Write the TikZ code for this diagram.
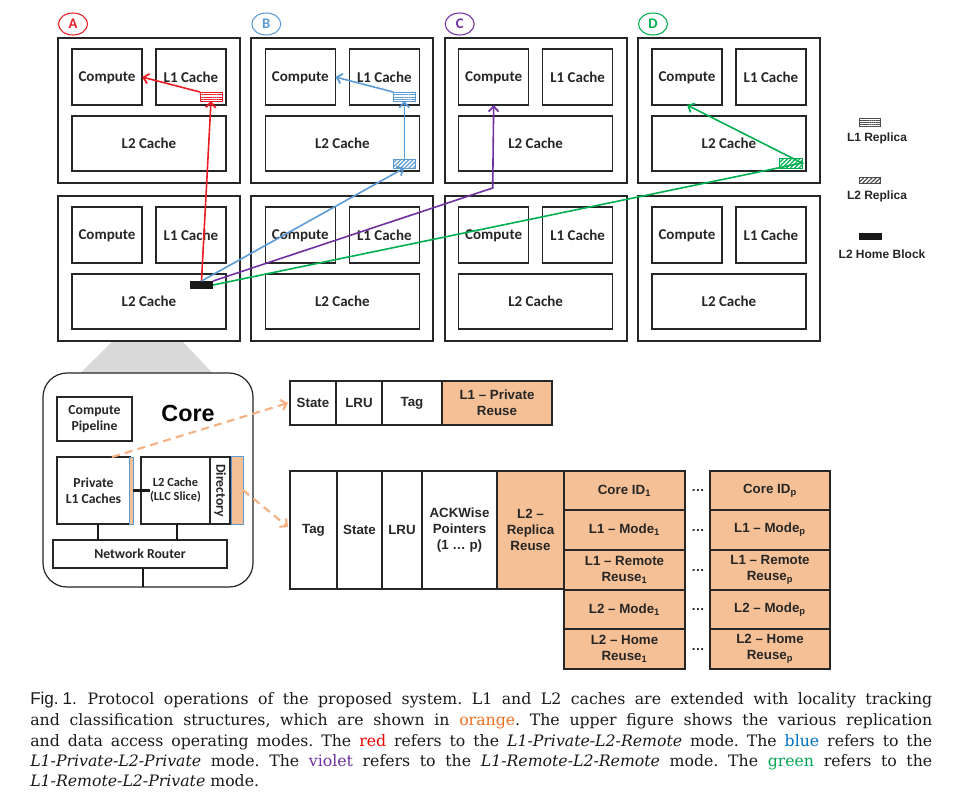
\documentclass[tikz,border=0pt]{standalone}
\usepackage{fontspec}
\newfontfamily\carl{Carlito}
\newfontfamily\ars{Liberation Sans}
\newfontfamily\capfont{DejaVu Serif}
\usetikzlibrary{arrows.meta,shapes.geometric,patterns.meta}
\definecolor{cred}{RGB}{237,28,36}
\definecolor{cblue}{RGB}{91,155,213}
\definecolor{cviolet}{RGB}{112,48,160}
\definecolor{cgreen}{RGB}{0,176,80}
\definecolor{corange}{RGB}{245,192,150}
\definecolor{cdash}{RGB}{244,177,131}
\definecolor{ink}{RGB}{38,38,38}
\definecolor{cgray}{RGB}{217,217,217}
\definecolor{capor}{RGB}{240,110,30}
\definecolor{capred}{RGB}{235,0,0}
\definecolor{capblue}{RGB}{0,112,192}
\definecolor{capviolet}{RGB}{112,48,160}
\definecolor{capgreen}{RGB}{0,166,80}
\tikzset{
 wh/.style 2 args={minimum width=#1*0.75pt, minimum height=#2*0.75pt, inner sep=0pt, outer sep=0pt},
 tile/.style={draw=ink, line width=1.5pt},
 ibox/.style={draw=ink, line width=1.1pt, text=ink, text depth=0pt, font=\carl\bfseries\fontsize{11.25}{13}\selectfont},
 lab/.style={draw=#1, ellipse, text=#1, line width=0.8pt, font=\carl\bfseries\fontsize{11}{13}\selectfont, inner sep=0pt, minimum width=21.75pt, minimum height=16.5pt},
 repone/.style={draw=#1, line width=0.6pt, pattern={Lines[angle=0,distance=1.6pt,line width=0.7pt]}, pattern color=#1},
 reptwo/.style={draw=#1, line width=0.6pt, pattern={Lines[angle=45,distance=2.2pt,line width=0.9pt]}, pattern color=#1},
 homeblk/.style={fill=black!90, draw=none},
 arr/.style={-{Straight Barb[length=4pt,width=7.5pt,line width=1.3pt]}, line width=1.2pt},
 legtext/.style={text=ink, font=\ars\bfseries\fontsize{9}{11}\selectfont},
 cbox/.style={draw=ink, line width=0.8pt, text=ink, align=center, font=\carl\bfseries\fontsize{10.3}{12}\selectfont},
 thickc/.style={draw=black!90, line width=2pt},
 strip/.style={draw=cblue, line width=0.6pt, fill=corange},
 odash/.style={draw=cdash, dash pattern=on 6pt off 4pt, line width=1.6pt, -{Straight Barb[length=4pt,width=8pt]}},
 cell/.style={draw=ink, line width=0.9pt, text=ink, align=center, font=\ars\bfseries\fontsize{10}{12}\selectfont},
 ocell/.style={cell, fill=corange},
 dotsn/.style={text=ink, font=\ars\bfseries\fontsize{10}{12}\selectfont},
 capline/.style={anchor=base west, inner sep=0pt, font=\capfont\frenchspacing\fontsize{11.8}{14}\selectfont, text=black!90}
}
\begin{document}
\begin{tikzpicture}[x=0.75pt,y=-0.75pt]
\useasboundingbox (0,0) rectangle (956,801);
% ---------- tiles ----------
\foreach \L [count=\i from 0] in {A,B,C,D}{
 \foreach \j in {1,2}{
  \pgfmathsetmacro\tx{58+193.33*\i}
  \pgfmathsetmacro\ty{38+158*(\j-1)}
  \node[tile, wh={182}{145}] (T\L\j) at (\tx+91,\ty+72.5) {};
  \node[ibox, wh={70}{56}] (C\L\j) at (\tx+49,\ty+39) {Compute};
  \node[ibox, wh={70}{56}] (M\L\j) at (\tx+133,\ty+39) {L1 Cache};
  \node[ibox, wh={154}{55}] (S\L\j) at (\tx+91,\ty+105.5) {L2 Cache};
 }}
\node[lab=cred] (LA) at (73,24) {A};
\node[lab=cblue] (LB) at (266.3,24) {B};
\node[lab=cviolet] (LC) at (459.7,24) {C};
\node[lab=cgreen] (LD) at (653,24) {D};
% replicas
\node[repone=cred, wh={22}{9}] (RA) at (211,96.5) {};
\node[repone=cblue, wh={22}{9}] (RBa) at (404.3,96.5) {};
\node[reptwo=cblue, wh={22}{9}] (RBb) at (404.3,163.5) {};
\node[reptwo=cgreen, wh={23}{10}] (RD) at (790.5,163) {};
\node[homeblk, wh={23}{8}] (HB) at (201.5,285) {};
% arrows
\draw[arr, cred] (HB.north) -- (RA.south);
\draw[arr, cred] (RA.north west) -- (CA1.east);
\draw[arr, cblue] (HB.north) -- (RBb.south);
\draw[arr, cblue] (RBb.north) -- (RBa.south);
\draw[arr, cblue] (RBa.north west) -- (CB1.east);
\coordinate (vbend) at (492.7,188);
\draw[arr, cviolet] (HB.north east) -- (vbend) -- (CC1.south);
\draw[arr, cgreen] (HB.east) -- (RD.east) -- (CD1.south);
% legend
\node[repone=black!70, wh={21}{8}] (LG1) at (869.5,122) {};
\node[legtext] (LT1) at (877,138) {L1 Replica};
\node[reptwo=black!70, wh={21}{6}] (LG2) at (869.5,180.5) {};
\node[legtext] (LT2) at (877,196) {L2 Replica};
\node[homeblk, wh={23}{7}] (LG3) at (870.5,236.5) {};
\node[legtext] (LT3) at (882,254) {L2 Home Block};
% ---------- core ----------
\fill[cgray] (112,342) -- (183,342) -- (213,373.5) -- (80,373.5) -- cycle;
\node[draw=ink, line width=0.9pt, rounded corners=18pt, fill=white, wh={210}{214}] (Core) at (148,480) {};
\node[text=black, font=\ars\bfseries\fontsize{17.5}{20}\selectfont] (CoreT) at (188,413) {Core};
\node[cbox, wh={75}{44}] (CP) at (94.5,419) {Compute\\Pipeline};
\node[cbox, wh={73}{67}] (PL1) at (93.5,490.5) {Private\\L1 Caches};
\node[strip, wh={4}{67}] (S1) at (131,490.5) {};
\node[cbox, wh={69}{67}, font=\carl\bfseries\fontsize{9.3}{10.5}\selectfont] (L2C) at (175.5,490.5) {L2 Cache\\(LLC Slice)};
\node[cbox, wh={20}{67}] (Dir) at (220,490.5) {};
\node[rotate=-90, text=ink, font=\carl\bfseries\fontsize{10.3}{12}\selectfont] (DirT) at (Dir.center) {Directory};
\node[strip, wh={12}{68}] (S2) at (237,490) {};
\node[cbox, wh={174}{28}] (NR) at (140,554) {Network Router};
\draw[thickc] (S1.east) -- ([xshift=6.75pt]L2C.west);
\draw[thickc] ([xshift=3.4pt]PL1.south) -- ([xshift=3.4pt]PL1.south |- NR.north);
\draw[thickc] ([xshift=1.1pt]L2C.south) -- ([xshift=1.1pt]L2C.south |- NR.north);
\draw[thickc] ([xshift=2.25pt]NR.south) -- ([xshift=2.25pt]NR.south |- Core.south);
% ---------- tables ----------
\node[cell, wh={46}{44}] (a1) at (313,403) {State};
\node[cell, wh={46}{44}] (a2) at (359,403) {LRU};
\node[cell, wh={60}{44}] (a3) at (412,403) {Tag};
\node[ocell, wh={110}{44}] (a4) at (497,403) {L1 – Private\\Reuse};
\node[cell, wh={47}{118}] (b1) at (313.5,530) {Tag};
\node[cell, wh={45}{118}] (b2) at (359.5,530) {State};
\node[cell, wh={40}{118}] (b3) at (402,530) {LRU};
\node[cell, wh={75}{118}] (b4) at (459.5,530) {ACKWise\\Pointers\\(1 … p)};
\node[ocell, wh={67}{118}] (b5) at (530.5,530) {L2 –\\Replica\\Reuse};
\node[ocell, wh={121}{39}] (c1) at (624.5,490.5) {Core ID\textsubscript{1}};
\node[ocell, wh={121}{40}] (c2) at (624.5,530) {L1 – Mode\textsubscript{1}};
\node[ocell, wh={121}{40}] (c3) at (624.5,570) {L1 – Remote\\Reuse\textsubscript{1}};
\node[ocell, wh={121}{39}] (c4) at (624.5,609.5) {L2 – Mode\textsubscript{1}};
\node[ocell, wh={121}{40}] (c5) at (624.5,649) {L2 – Home\\Reuse\textsubscript{1}};
\node[ocell, wh={120}{39}] (p1) at (770,490.5) {Core ID\textsubscript{p}};
\node[ocell, wh={120}{40}] (p2) at (770,530) {L1 – Mode\textsubscript{p}};
\node[ocell, wh={120}{40}] (p3) at (770,570) {L1 – Remote\\Reuse\textsubscript{p}};
\node[ocell, wh={120}{39}] (p4) at (770,609.5) {L2 – Mode\textsubscript{p}};
\node[ocell, wh={120}{40}] (p5) at (770,649) {L2 – Home\\Reuse\textsubscript{p}};
\foreach \r/\yy in {1/490.5,2/530,3/570,4/609.5,5/649}{
  \node[dotsn] (d\r) at (698,\yy) {…};
}
% dashed orange arrows
\draw[odash] ([xshift=13.9pt]PL1.north) -- ([xshift=-1.5pt]a1.west);
\draw[odash] (S2.east) -- ([xshift=-1.5pt,yshift=2.25pt]b1.west);
% ---------- caption ----------
\node[capline] (cap1) at (30,704) {\makebox[676.5pt][s]{{\ars\fontsize{12.8}{14}\selectfont Fig.\kern3pt 1.}\hspace{8pt}Protocol operations of the proposed system. L1 and L2 caches are extended with locality tracking}};
\node[capline] (cap2) at (30,725) {\makebox[676.5pt][s]{and classification structures, which are shown in \textcolor{capor}{orange}. The upper figure shows the various replication}};
\node[capline] (cap3) at (30,746) {\makebox[676.5pt][s]{and data access operating modes. The \textcolor{capred}{red} refers to the \textit{L1-Private-L2-Remote} mode. The \textcolor{capblue}{blue} refers to the}};
\node[capline] (cap4) at (30,766) {\makebox[676.5pt][s]{\textit{L1-Private-L2-Private} mode. The \textcolor{capviolet}{violet} refers to the \textit{L1-Remote-L2-Remote} mode. The \textcolor{capgreen}{green} refers to the}};
\node[capline] (cap5) at (30,786) {\textit{L1-Remote-L2-Private} mode.};
\end{tikzpicture}
\end{document}
